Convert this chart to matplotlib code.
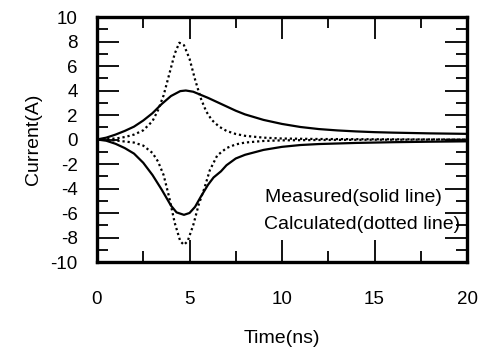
import matplotlib.pyplot as plt
from matplotlib.ticker import MultipleLocator

plt.rcParams['font.family'] = ['Liberation Sans', 'DejaVu Sans']
plt.rcParams['axes.unicode_minus'] = False

# measured (solid) curves
t_meas_pos = [0, 0.5, 1, 1.5, 2, 2.5, 3, 3.5, 4, 4.5, 4.8, 5.2, 5.6, 6, 6.5, 7,
              7.5, 8, 9, 10, 11, 12, 13, 14, 15, 16, 17, 18, 19, 20]
i_meas_pos = [0, 0.15, 0.4, 0.7, 1.05, 1.55, 2.15, 2.9, 3.55, 3.95, 4.0, 3.9, 3.65,
              3.4, 3.05, 2.7, 2.35, 2.05, 1.6, 1.27, 1.02, 0.85, 0.74, 0.66, 0.6,
              0.56, 0.53, 0.5, 0.48, 0.46]
t_meas_neg = [0, 0.5, 1, 1.5, 2, 2.5, 3, 3.5, 4, 4.3, 4.7, 5.0, 5.3, 5.6, 6, 6.3,
              6.7, 7, 7.5, 8, 9, 10, 11, 12, 14, 16, 18, 20]
i_meas_neg = [0, -0.1, -0.35, -0.7, -1.15, -1.9, -2.9, -4.1, -5.4, -5.95, -6.15,
              -6.0, -5.5, -4.7, -3.7, -3.1, -2.6, -2.1, -1.55, -1.25, -0.85, -0.6,
              -0.45, -0.37, -0.28, -0.22, -0.18, -0.15]

# calculated (dotted) curves
t_calc_pos = [0, 1, 1.5, 2, 2.5, 3, 3.3, 3.6, 3.9, 4.2, 4.45, 4.7, 5.0, 5.3, 5.6,
              5.9, 6.2, 6.6, 7, 7.5, 8, 9, 10, 12, 15, 20]
i_calc_pos = [0, 0.08, 0.2, 0.4, 0.75, 1.5, 2.4, 3.6, 5.3, 7.0, 7.9, 7.7, 6.6, 4.9,
              3.4, 2.3, 1.6, 1.05, 0.7, 0.45, 0.3, 0.15, 0.08, 0.04, 0.02, 0]
t_calc_neg = [0, 1, 2, 2.5, 3, 3.3, 3.6, 3.9, 4.2, 4.5, 4.7, 4.9, 5.2, 5.5, 5.8,
              6.1, 6.5, 7, 7.5, 8, 9, 10, 12, 15, 20]
i_calc_neg = [0, -0.08, -0.25, -0.5, -1.1, -1.8, -2.9, -4.7, -6.8, -8.3, -8.6, -8.3,
              -7.0, -5.3, -4.0, -2.5, -1.3, -0.7, -0.4, -0.25, -0.12, -0.07, -0.04,
              -0.02, 0]

fig = plt.figure(figsize=(4.78, 3.47), dpi=100)
ax = fig.add_axes([97 / 478, 1 - 262 / 347, 370 / 478, 245 / 347])

ax.plot(t_meas_pos, i_meas_pos, color='black', linewidth=1.6)
ax.plot(t_meas_neg, i_meas_neg, color='black', linewidth=1.6)
ax.plot(t_calc_pos, i_calc_pos, color='black', linewidth=1.6, linestyle=(0, (1, 1.3)))
ax.plot(t_calc_neg, i_calc_neg, color='black', linewidth=1.6, linestyle=(0, (1, 1.3)))

ax.text(9.1, -4.75, 'Measured(solid line)', fontsize=14, ha='left', va='center')
ax.text(9.05, -6.95, 'Calculated(dotted line)', fontsize=14, ha='left', va='center')

ax.set_xlim(0, 20)
ax.set_ylim(-10, 10)
ax.xaxis.set_major_locator(MultipleLocator(5))
ax.xaxis.set_minor_locator(MultipleLocator(2.5))
ax.yaxis.set_major_locator(MultipleLocator(2))
ax.yaxis.set_minor_locator(MultipleLocator(1))

ax.tick_params(which='both', direction='in', top=True, right=True, width=1.3)
ax.tick_params(which='major', length=16, labelsize=13.5, pad=21)
ax.tick_params(which='minor', length=8)
ax.tick_params(axis='y', which='major', pad=14)
for s in ax.spines.values():
    s.set_linewidth(2.4)

ax.set_xlabel('Time(ns)', fontsize=14, labelpad=16)
ax.set_ylabel('Current(A)', fontsize=14, labelpad=6)

fig.savefig('out.png', dpi=100)
